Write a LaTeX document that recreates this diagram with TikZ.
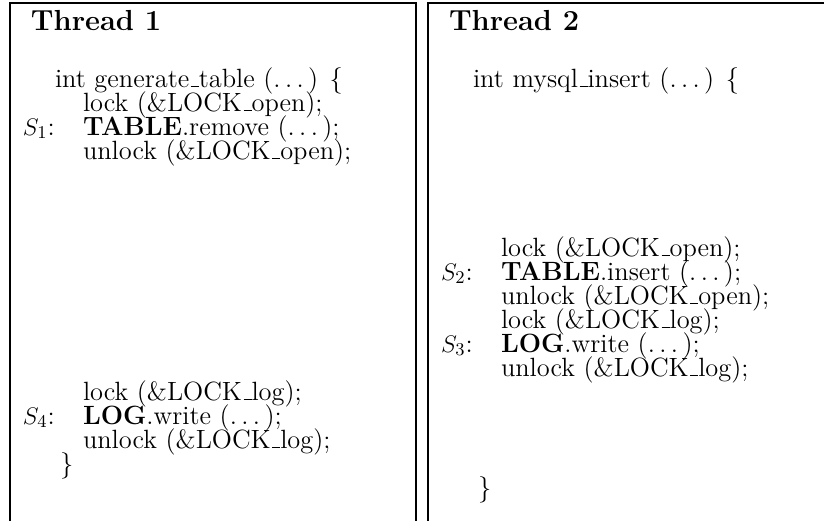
\documentclass[tikz,border=0pt]{standalone}
\newcommand\usc{\leavevmode\kern.06em\vbox{\hrule width.3em}}
\newcommand\dts{.\kern.1667em.\kern.1667em.\kern.1667em}
\begin{document}
\begin{tikzpicture}[x=0.5pt,y=-0.5pt,
  txt/.style={anchor=base west,inner sep=0pt,outer sep=0pt,font=\fontsize{13.2}{15}\selectfont},
  head/.style={anchor=base west,inner sep=0pt,outer sep=0pt,font=\fontsize{14.5}{17}\selectfont\bfseries},
  frame/.style={line width=0.7pt}]
\useasboundingbox (0,0) rectangle (824,520);
% frames
\draw[frame] (10,521) -- (10,3) -- (416,3) -- (416,521);
\draw[frame] (428,521) -- (428,3) -- (825,3);
% Thread 1
\node[head] (h1) at (31,30) {Thread 1};
\node[txt] (a0) at (55,87) {int generate\usc table (\dts) \{};
\node[txt] (a1) at (83,111) {lock (\&LOCK\usc open);};
\node[txt] (s1) at (23,135) {$S_1$:};
\node[txt] (a2) at (83,135) {\textbf{TABLE}.remove (\dts);};
\node[txt] (a3) at (83,159) {unlock (\&LOCK\usc open);};
\node[txt] (a4) at (83,400) {lock (\&LOCK\usc log);};
\node[txt] (s4) at (23,424) {$S_4$:};
\node[txt] (a5) at (83,424) {\textbf{LOG}.write (\dts);};
\node[txt] (a6) at (83,448) {unlock (\&LOCK\usc log);};
\node[txt] (a7) at (60,472) {\}};
% Thread 2
\node[head] (h2) at (449,30) {Thread 2};
\node[txt] (b0) at (473,87) {int mysql\usc insert (\dts) \{};
\node[txt] (b1) at (501,256) {lock (\&LOCK\usc open);};
\node[txt] (s2) at (441,280) {$S_2$:};
\node[txt] (b2) at (501,280) {\textbf{TABLE}.insert (\dts);};
\node[txt] (b3) at (501,304) {unlock (\&LOCK\usc open);};
\node[txt] (b4) at (501,328) {lock (\&LOCK\usc log);};
\node[txt] (s3) at (441,352) {$S_3$:};
\node[txt] (b5) at (501,352) {\textbf{LOG}.write (\dts);};
\node[txt] (b6) at (501,376) {unlock (\&LOCK\usc log);};
\node[txt] (b7) at (478,496) {\}};
\end{tikzpicture}
\end{document}
